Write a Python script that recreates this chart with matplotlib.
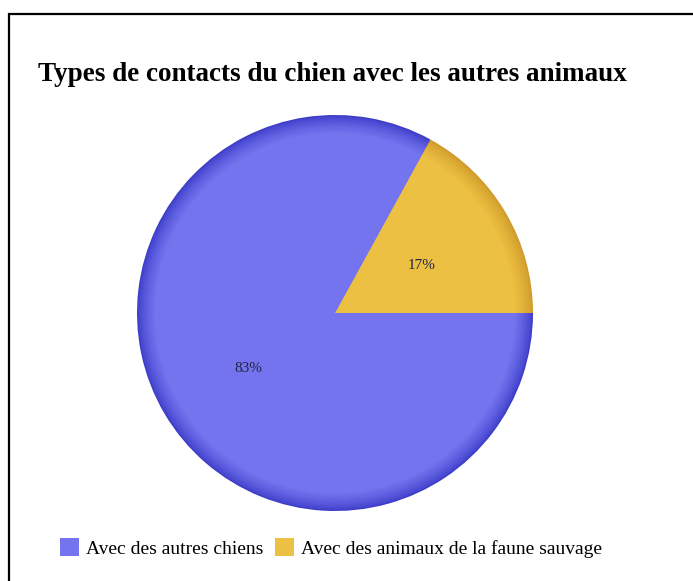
import matplotlib.pyplot as plt
import numpy as np
from matplotlib.patches import Rectangle, Patch
from matplotlib.colors import to_rgb

labels = ["Avec des autres chiens", "Avec des animaux de la faune sauvage"]
shares = [83, 17]
pct_text = ["83%", "17%"]
base_colors = ["#7474ef", "#ecc042"]
edge_colors = ["#3c3cc8", "#cf9a2a"]

W, H = 693, 581
plt.rcParams["font.family"] = ["Liberation Serif", "DejaVu Serif"]

fig = plt.figure(figsize=(W / 100, H / 100), dpi=100)
fig.patch.set_facecolor("white")

# pie box in pixels: centre (335, 313), radius 198
cx, cy, r = 335, 313, 198
ax = fig.add_axes([(cx - r) / W, (H - cy - r) / H, 2 * r / W, 2 * r / H])

# darker rim fading into the flat fill
steps = 14
rim = 0.09
for k in range(steps + 1):
    t = k / steps
    rad = 1 - rim * t
    cols = []
    for b, e in zip(base_colors, edge_colors):
        b, e = np.array(to_rgb(b)), np.array(to_rgb(e))
        mix = t ** 0.7
        cols.append(tuple(e * (1 - mix) + b * mix))
    ax.pie(shares[::-1], colors=cols[::-1], radius=rad, startangle=0,
           counterclock=True, wedgeprops=dict(linewidth=0))

ax.set_xlim(-1, 1)
ax.set_ylim(-1, 1)
ax.set_aspect("equal")
ax.axis("off")

# percentage labels at mid-angles
ang = 0.0
mids = []
for s in shares[::-1]:
    mids.append(np.deg2rad(ang + s * 3.6 / 2))
    ang += s * 3.6
for m, txt in zip(mids, pct_text[::-1]):
    ax.text(0.51 * np.cos(m), 0.51 * np.sin(m) - 0.02, txt, ha="center", va="center",
            fontsize=11, color="#222244")

fig.text(38 / W, 1 - 74 / H, "Types de contacts du chien avec les autres animaux",
         fontsize=19.5, fontweight="bold", ha="left", va="center")

handles = [Patch(facecolor=c, edgecolor="none") for c in base_colors]
fig.legend(handles, labels, loc="center", bbox_to_anchor=(331 / W, 1 - 548 / H),
           ncol=2, frameon=False, fontsize=14, handlelength=1.0, handleheight=1.0,
           handletextpad=0.35, columnspacing=0.6, borderpad=0, borderaxespad=0)

fig.add_artist(Rectangle((9 / W, -0.1), 2, (H - 14) / H + 0.1,
                         transform=fig.transFigure, fill=False,
                         edgecolor="black", linewidth=1.6))

fig.savefig("out.png", dpi=100)
